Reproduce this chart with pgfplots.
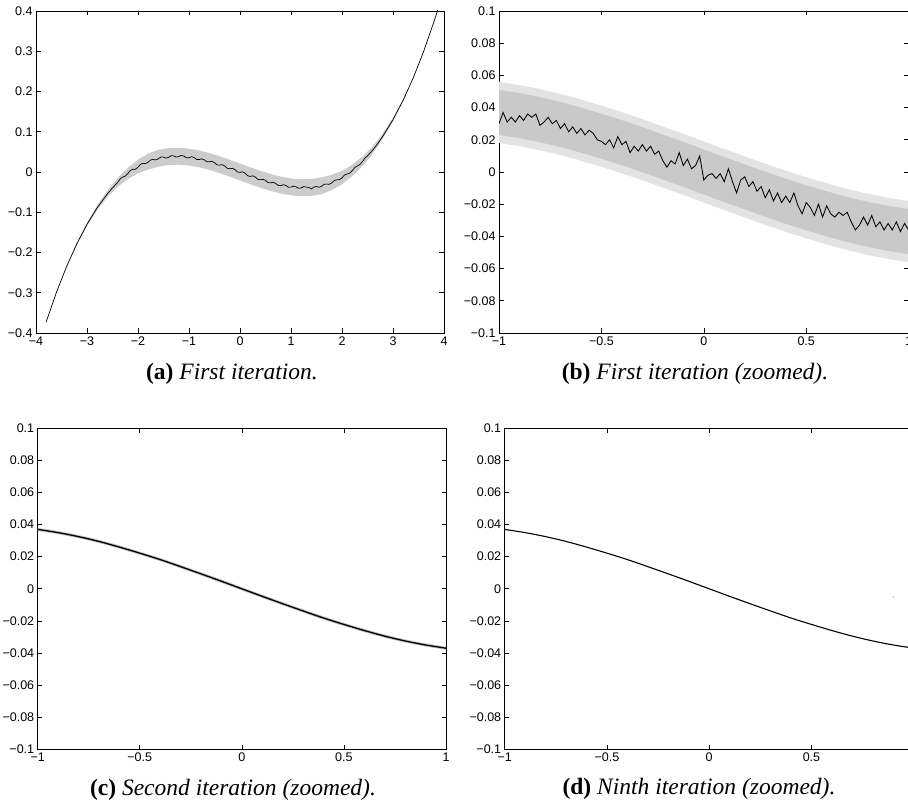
\documentclass[border=0pt]{standalone}
\usepackage{fontspec}
\setmainfont{Liberation Serif}
\newfontfamily\ticksfam{Liberation Sans}
\usepackage{pgfplots}
\pgfplotsset{compat=1.18}
\newcommand{\ticksfont}{\ticksfam\fontsize{12.5}{14}\selectfont}
\pgfplotsset{
  pan/.style={
    scale only axis, anchor=south west,
    axis line style={line width=0.8pt},
    every tick/.style={black, line width=0.6pt},
    major tick length=4.5pt, tick align=inside,
    tick label style={font=\ticksfont},
    clip=true,
  },
  zoomed/.style={
    pan, xmin=-1, xmax=1, ymin=-0.1, ymax=0.1,
    xtick={-1,-0.5,0,0.5,1},
    xticklabels={−1,−0.5,0,0.5,1},
    ytick={-0.1,-0.08,-0.06,-0.04,-0.02,0,0.02,0.04,0.06,0.08,0.1},
    yticklabels={−0.1,−0.08,−0.06,−0.04,−0.02,0,0.02,0.04,0.06,0.08,0.1},
  },
}
\pgfplotstableread{
x y
-1.0 0.0370
-0.9 0.0350
-0.8 0.0325
-0.7 0.0295
-0.6 0.0260
-0.5 0.0222
-0.4 0.0182
-0.3 0.0138
-0.2 0.0093
-0.1 0.0047
0.0 0.0000
0.1 -0.0047
0.2 -0.0093
0.3 -0.0138
0.4 -0.0182
0.5 -0.0222
0.6 -0.0260
0.7 -0.0295
0.8 -0.0325
0.9 -0.0350
1.0 -0.0370
}\smoothcurve
\begin{document}
\begin{tikzpicture}
% ---------------- (a) ----------------
\begin{axis}[pan, at={(36pt,470pt)}, width=408pt, height=322pt,
  xmin=-4, xmax=4, ymin=-0.4, ymax=0.4,
  xtick={-4,-3,-2,-1,0,1,2,3,4},
  xticklabels={−4,−3,−2,−1,0,1,2,3,4},
  ytick={-0.4,-0.3,-0.2,-0.1,0,0.1,0.2,0.3,0.4},
  yticklabels={−0.4,−0.3,−0.2,−0.1,0,0.1,0.2,0.3,0.4}]
\addplot[fill=black!20, draw=none] coordinates {
(-3.4,-0.2348) (-3.2,-0.1766) (-3.0,-0.1261) (-2.8,-0.0828) (-2.6,-0.0463)
(-2.4,-0.0150) (-2.2,0.0105) (-2.0,0.0307) (-1.8,0.0460) (-1.6,0.0551)
(-1.4,0.0593) (-1.2,0.0601) (-1.0,0.0580) (-0.8,0.0535) (-0.6,0.0470)
(-0.4,0.0392) (-0.2,0.0303) (0,0.0210) (0.2,0.0117) (0.4,0.0028)
(0.6,-0.0050) (0.8,-0.0115) (1.0,-0.0160) (1.2,-0.0181) (1.4,-0.0173)
(1.6,-0.0131) (1.8,-0.0070) (2.0,0.0033) (2.2,0.0175) (2.4,0.0380)
(2.6,0.0633) (2.8,0.0958) (3.0,0.1351) (3.2,0.1806) (3.3,0.2057)
(3.2,0.1766) (3.0,0.1251) (2.8,0.0818) (2.6,0.0453) (2.4,0.0140)
(2.2,-0.0105) (2.0,-0.0307) (1.8,-0.0450) (1.6,-0.0551) (1.4,-0.0593)
(1.2,-0.0601) (1.0,-0.0580) (0.8,-0.0535) (0.6,-0.0470) (0.4,-0.0392)
(0.2,-0.0303) (0,-0.0210) (-0.2,-0.0117) (-0.4,-0.0028) (-0.6,0.0050)
(-0.8,0.0115) (-1.0,0.0160) (-1.2,0.0181) (-1.4,0.0173) (-1.6,0.0131)
(-1.8,0.0060) (-2.0,-0.0033) (-2.2,-0.0175) (-2.4,-0.0370) (-2.6,-0.0623)
(-2.8,-0.0948) (-3.0,-0.1341) (-3.2,-0.1806)
} -- cycle;
\addplot[black, line width=0.7pt] coordinates {
(-3.80,-0.3723) (-3.60,-0.2992) (-3.40,-0.2348) (-3.20,-0.1786) (-3.00,-0.1301)
(-2.80,-0.0888) (-2.60,-0.0543) (-2.50,-0.0394) (-2.40,-0.0262) (-2.35,-0.0170)
(-2.30,-0.0125) (-2.25,-0.0105) (-2.20,-0.0040) (-2.15,0.0038) (-2.10,0.0065)
(-2.05,0.0070) (-2.00,0.0120) (-1.95,0.0190) (-1.90,0.0215) (-1.85,0.0210)
(-1.80,0.0245) (-1.75,0.0300) (-1.70,0.0310) (-1.65,0.0300) (-1.60,0.0330)
(-1.55,0.0372) (-1.50,0.0370) (-1.45,0.0345) (-1.40,0.0365) (-1.35,0.0405)
(-1.30,0.0400) (-1.25,0.0370) (-1.20,0.0385) (-1.15,0.0412) (-1.10,0.0395)
(-1.05,0.0352) (-1.00,0.0355) (-0.95,0.0380) (-0.90,0.0360) (-0.85,0.0312)
(-0.80,0.0310) (-0.75,0.0327) (-0.70,0.0300) (-0.65,0.0255) (-0.60,0.0255)
(-0.55,0.0265) (-0.50,0.0230) (-0.45,0.0178) (-0.40,0.0170) (-0.35,0.0182)
(-0.30,0.0150) (-0.25,0.0092) (-0.20,0.0080) (-0.15,0.0092) (-0.10,0.0060)
(-0.05,0.0002) (0.00,-0.0010) (0.05,0.0005) (0.10,-0.0030) (0.15,-0.0093)
(0.20,-0.0110) (0.25,-0.0095) (0.30,-0.0125) (0.35,-0.0183) (0.40,-0.0195)
(0.45,-0.0180) (0.50,-0.0210) (0.55,-0.0263) (0.60,-0.0270) (0.65,-0.0255)
(0.70,-0.0285) (0.75,-0.0335) (0.80,-0.0340) (0.85,-0.0315) (0.90,-0.0335)
(0.95,-0.0378) (1.00,-0.0375) (1.05,-0.0350) (1.10,-0.0370) (1.15,-0.0405)
(1.20,-0.0395) (1.25,-0.0363) (1.30,-0.0375) (1.35,-0.0385) (1.40,-0.0420)
(1.45,-0.0375) (1.50,-0.0360) (1.55,-0.0380) (1.60,-0.0355) (1.65,-0.0305)
(1.70,-0.0300) (1.75,-0.0305) (1.80,-0.0270) (1.85,-0.0210) (1.90,-0.0195)
(1.95,-0.0190) (2.00,-0.0145) (2.05,-0.0075) (2.10,-0.0050) (2.15,-0.0030)
(2.20,0.0030) (2.25,0.0110) (2.30,0.0150) (2.35,0.0185) (2.40,0.0255)
(2.45,0.0345) (2.50,0.0400) (2.60,0.0540) (2.70,0.0705) (2.80,0.0888)
(3.00,0.1301) (3.20,0.1786) (3.40,0.2348) (3.60,0.2992) (3.80,0.3723)
(3.88,0.4040)
};
\end{axis}
% ---------------- (b) ----------------
\begin{axis}[zoomed, at={(499pt,470pt)}, width=409.6pt, height=322pt]
\addplot[fill=black!11, draw=none] coordinates {
(-1.0,0.0560) (-0.9,0.0540) (-0.8,0.0515) (-0.7,0.0485) (-0.6,0.0450)
(-0.5,0.0412) (-0.4,0.0372) (-0.3,0.0328) (-0.2,0.0283) (-0.1,0.0237)
(0.0,0.0190) (0.1,0.0143) (0.2,0.0097) (0.3,0.0052) (0.4,0.0008)
(0.5,-0.0032) (0.6,-0.0070) (0.7,-0.0105) (0.8,-0.0135) (0.9,-0.0160)
(1.0,-0.0180)
(1.0,-0.0560) (0.9,-0.0540) (0.8,-0.0515) (0.7,-0.0485) (0.6,-0.0450)
(0.5,-0.0412) (0.4,-0.0372) (0.3,-0.0328) (0.2,-0.0283) (0.1,-0.0237)
(0.0,-0.0190) (-0.1,-0.0143) (-0.2,-0.0097) (-0.3,-0.0052) (-0.4,-0.0008)
(-0.5,0.0032) (-0.6,0.0070) (-0.7,0.0105) (-0.8,0.0135) (-0.9,0.0160)
(-1.0,0.0180)
} -- cycle;
\addplot[fill=black!21, draw=none] coordinates {
(-1.0,0.0510) (-0.9,0.0490) (-0.8,0.0465) (-0.7,0.0435) (-0.6,0.0400)
(-0.5,0.0362) (-0.4,0.0322) (-0.3,0.0278) (-0.2,0.0233) (-0.1,0.0187)
(0.0,0.0140) (0.1,0.0093) (0.2,0.0047) (0.3,0.0002) (0.4,-0.0042)
(0.5,-0.0082) (0.6,-0.0120) (0.7,-0.0155) (0.8,-0.0185) (0.9,-0.0210)
(1.0,-0.0230)
(1.0,-0.0510) (0.9,-0.0490) (0.8,-0.0465) (0.7,-0.0435) (0.6,-0.0400)
(0.5,-0.0362) (0.4,-0.0322) (0.3,-0.0278) (0.2,-0.0233) (0.1,-0.0187)
(0.0,-0.0140) (-0.1,-0.0093) (-0.2,-0.0047) (-0.3,-0.0002) (-0.4,0.0042)
(-0.5,0.0082) (-0.6,0.0120) (-0.7,0.0155) (-0.8,0.0185) (-0.9,0.0210)
(-1.0,0.0230)
} -- cycle;
\addplot[black, line width=0.85pt] coordinates {
(-1.00,0.030) (-0.98,0.037) (-0.96,0.031) (-0.94,0.034) (-0.92,0.031)
(-0.90,0.035) (-0.88,0.032) (-0.86,0.036) (-0.84,0.034) (-0.82,0.036)
(-0.80,0.029) (-0.78,0.031) (-0.76,0.034) (-0.74,0.030) (-0.72,0.032)
(-0.70,0.027) (-0.68,0.030) (-0.66,0.025) (-0.64,0.028) (-0.62,0.024)
(-0.60,0.027) (-0.58,0.023) (-0.56,0.026) (-0.54,0.024) (-0.52,0.020)
(-0.50,0.019) (-0.48,0.017) (-0.46,0.020) (-0.44,0.015) (-0.42,0.022)
(-0.40,0.017) (-0.38,0.019) (-0.36,0.012) (-0.34,0.016) (-0.32,0.013)
(-0.30,0.017) (-0.28,0.013) (-0.26,0.016) (-0.24,0.011) (-0.22,0.013)
(-0.20,0.007) (-0.18,0.003) (-0.16,0.007) (-0.14,0.005) (-0.12,0.012)
(-0.10,0.004) (-0.08,0.008) (-0.06,0.002) (-0.04,0.004) (-0.02,0.010)
(0.00,-0.005) (0.02,-0.002) (0.04,-0.001) (0.06,-0.004) (0.08,-0.001)
(0.10,-0.006) (0.12,0.002) (0.14,-0.006) (0.16,-0.013) (0.18,-0.005)
(0.20,-0.003) (0.22,-0.009) (0.24,-0.006) (0.26,-0.012) (0.28,-0.009)
(0.30,-0.016) (0.32,-0.011) (0.34,-0.018) (0.36,-0.013) (0.38,-0.019)
(0.40,-0.015) (0.42,-0.019) (0.44,-0.013) (0.46,-0.021) (0.48,-0.026)
(0.50,-0.019) (0.52,-0.022) (0.54,-0.027) (0.56,-0.020) (0.58,-0.028)
(0.60,-0.021) (0.62,-0.026) (0.64,-0.028) (0.66,-0.025) (0.68,-0.027)
(0.70,-0.025) (0.72,-0.031) (0.74,-0.036) (0.76,-0.033) (0.78,-0.028)
(0.80,-0.033) (0.82,-0.027) (0.84,-0.034) (0.86,-0.031) (0.88,-0.036)
(0.90,-0.032) (0.92,-0.036) (0.94,-0.031) (0.96,-0.037) (0.98,-0.032)
(1.00,-0.036)
};
\end{axis}
% ---------------- (c) ----------------
\begin{axis}[zoomed, at={(37.7pt,53.7pt)}, width=408.3pt, height=321pt]
\addplot[black!25, line width=3pt, smooth] table {\smoothcurve};
\addplot[black, line width=1.3pt, smooth] table {\smoothcurve};
\end{axis}
% ---------------- (d) ----------------
\begin{axis}[zoomed, at={(504.7pt,53.7pt)}, width=409pt, height=321pt]
\addplot[black, line width=1.1pt, smooth] table {\smoothcurve};
\addplot[only marks, mark=*, mark size=0.5pt, black!30] coordinates {(0.9,-0.005)};
\end{axis}
% ---------------- captions ----------------
\begin{scope}[every node/.style={anchor=base, inner sep=0pt, font=\fontsize{23.5}{26}\selectfont}]
\node at (232pt,423pt) {\textbf{(a)} \textit{First iteration.}};
\node at (695pt,423pt) {\textbf{(b)} \textit{First iteration (zoomed).}};
\node at (233pt,7pt) {\textbf{(c)} \textit{Second iteration (zoomed).}};
\node at (699pt,8pt) {\textbf{(d)} \textit{Ninth iteration (zoomed).}};
\end{scope}
\pgfresetboundingbox
\path[use as bounding box] (0,0) rectangle (908pt,803pt);
\end{tikzpicture}
\end{document}
